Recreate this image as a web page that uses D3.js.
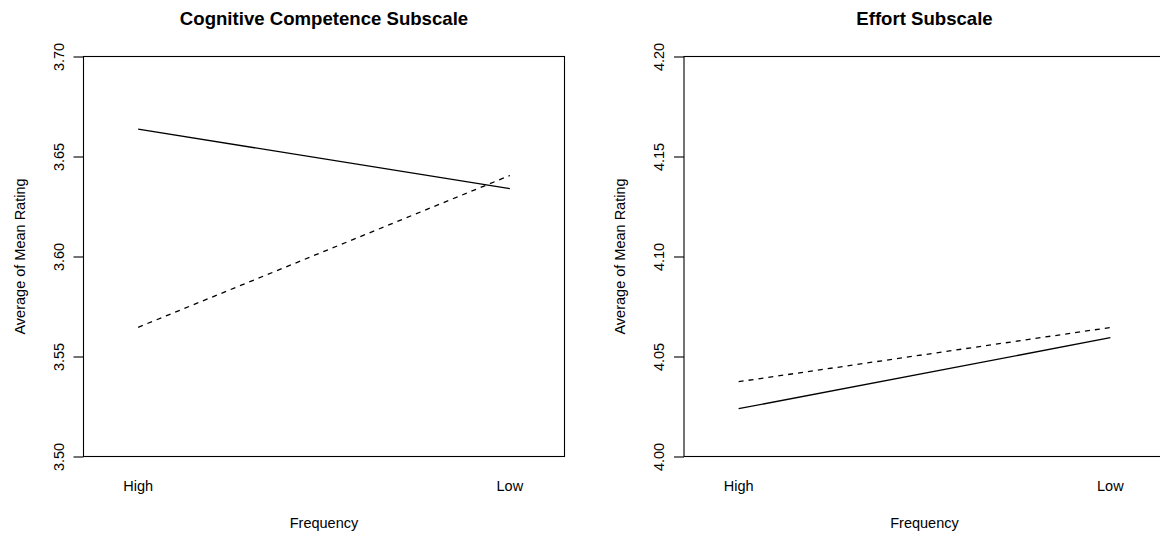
<!DOCTYPE html>
<html>
<head>
<meta charset="utf-8">
<script src="https://cdn.jsdelivr.net/npm/d3@7"></script>
<style>
  body { margin: 0; background: #fff; }
  svg text { font-family: "Liberation Sans", Arial, sans-serif; fill: #000; }
</style>
</head>
<body>
<figure id="plots" style="margin:0"></figure>
<script>
// data
const categories = ["High", "Low"];

const cogTitle = "Cognitive Competence Subscale";
const cogTicks = [3.50, 3.55, 3.60, 3.65, 3.70];
const cogSolid = [3.6637, 3.6339];
const cogDashed = [3.5646, 3.6405];

const effTitle = "Effort Subscale";
const effTicks = [4.00, 4.05, 4.10, 4.15, 4.20];
const effSolid = [4.0239, 4.0594];
const effDashed = [4.0374, 4.0645];

const yLabel = "Average of Mean Rating";
const xLabel = "Frequency";

const W = 1160, H = 534;
const boxW = 481, boxTop = 56.5, boxBottom = 456.5;

const svg = d3.select("figure#plots").append("svg")
  .attr("width", W).attr("height", H);

function drawPanel(left, title, ticks, solid, dashed) {
  const g = svg.append("g").attr("transform", `translate(${left},0)`);

  const x = d3.scalePoint().domain(categories).range([0, boxW]).padding(0.147);
  const y = d3.scaleLinear().domain([ticks[0], ticks[ticks.length - 1]]).range([boxBottom, boxTop]);

  // box
  g.append("rect")
    .attr("x", 0).attr("y", boxTop)
    .attr("width", boxW).attr("height", boxBottom - boxTop)
    .attr("fill", "none").attr("stroke", "#000").attr("stroke-width", 1.1);

  // y axis, labels rotated like base R
  const yAxis = g.append("g")
    .call(d3.axisLeft(y).tickValues(ticks).tickSize(10).tickFormat(d3.format(".2f")));
  yAxis.select(".domain").remove();
  yAxis.selectAll("line").attr("stroke", "#000").attr("stroke-width", 1.1);
  yAxis.selectAll("text")
    .attr("x", null).attr("dy", null).attr("y", 0)
    .attr("transform", "translate(-20,0) rotate(-90)")
    .attr("text-anchor", "middle")
    .attr("font-size", "14.5px");

  // x labels, no ticks
  g.selectAll("text.xlab").data(categories).enter().append("text")
    .attr("class", "xlab")
    .attr("x", d => x(d)).attr("y", 490.5)
    .attr("text-anchor", "middle").attr("font-size", "14.5px")
    .text(d => d);

  const line = d3.line().x((d, i) => x(categories[i])).y(d => y(d));

  g.append("path").datum(solid)
    .attr("d", line).attr("fill", "none")
    .attr("stroke", "#000").attr("stroke-width", 1.3);

  g.append("path").datum(dashed)
    .attr("d", line).attr("fill", "none")
    .attr("stroke", "#000").attr("stroke-width", 1.3)
    .attr("stroke-dasharray", "5,5");

  g.append("text")
    .attr("x", boxW / 2).attr("y", 25)
    .attr("text-anchor", "middle").attr("font-size", "18.6px").attr("font-weight", "bold")
    .text(title);

  g.append("text")
    .attr("x", boxW / 2).attr("y", 527.5)
    .attr("text-anchor", "middle").attr("font-size", "14.5px")
    .text(xLabel);

  g.append("text")
    .attr("transform", `translate(-59,${(boxTop + boxBottom) / 2}) rotate(-90)`)
    .attr("text-anchor", "middle").attr("font-size", "14.5px")
    .text(yLabel);
}

drawPanel(83.5, cogTitle, cogTicks, cogSolid, cogDashed);
drawPanel(684, effTitle, effTicks, effSolid, effDashed);
</script>
</body>
</html>
